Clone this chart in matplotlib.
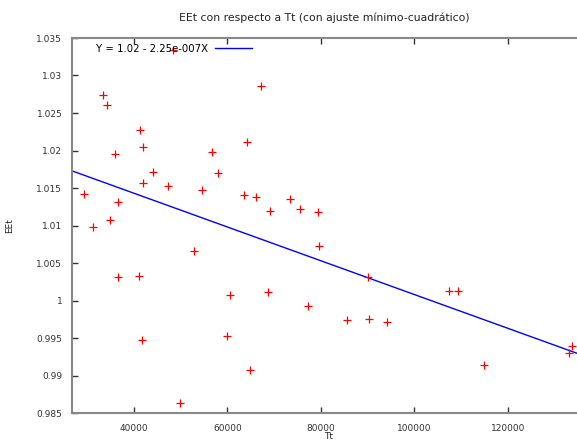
import numpy as np
import matplotlib
matplotlib.use("Agg")
import matplotlib.pyplot as plt

# datos (Tt, EEt)
tt = [29300, 31200, 33350, 34200, 34850, 35900, 36550, 36550, 41250, 41900,
      41900, 41050, 41700, 44050, 47300, 49850, 48350, 54550, 52900, 56700,
      57950, 59900, 60550, 64850, 64200, 63550, 66050, 67250, 69100, 68750,
      73400, 75550, 77200, 79350, 79650, 85650, 90150, 90300, 94100, 107450,
      109450, 115000, 133100, 133850]
eet = [1.0142, 1.0098, 1.0274, 1.0261, 1.0107, 1.0195, 1.0131, 1.0031, 1.0227, 1.0205,
       1.0157, 1.0033, 0.9947, 1.0171, 1.0153, 0.9863, 1.0334, 1.0147, 1.0066, 1.0198,
       1.0170, 0.9953, 1.0008, 0.9908, 1.0211, 1.0141, 1.0138, 1.0286, 1.0120, 1.0011,
       1.0135, 1.0122, 0.9993, 1.0118, 1.0073, 0.9974, 1.0031, 0.9976, 0.9972, 1.0013,
       1.0012, 0.9914, 0.9930, 0.9940]

# ajuste minimo-cuadratico
intercept = 1.0233
slope = -2.25e-7
fit_label = "Y = 1.02 - 2.25e-007X"

xlim = (26724, 134840)
ylim = (0.985, 1.035)

plt.rcParams["font.family"] = "DejaVu Sans"
plt.rcParams["font.size"] = 6.5

fig = plt.figure(figsize=(5.77, 4.44), dpi=100)
ax = fig.add_axes([72 / 577, 31 / 444, 505 / 577, 375 / 444])

ax.plot(tt, eet, "+", color="red", markersize=5.5, markeredgewidth=0.9, zorder=3)
xl = np.array(xlim)
ax.plot(xl, intercept + slope * xl, color="blue", linewidth=1, label=fit_label)

ax.set_xlim(xlim)
ax.set_ylim(ylim)
ax.set_xticks([40000, 60000, 80000, 100000, 120000])
ax.set_yticks([0.985, 0.99, 0.995, 1.0, 1.005, 1.01, 1.015, 1.02, 1.025, 1.03, 1.035])
ax.set_yticklabels(["0.985", "0.99", "0.995", "1", "1.005", "1.01", "1.015",
                    "1.02", "1.025", "1.03", "1.035"])
ax.tick_params(direction="in", length=4, width=1, colors="#333333",
               top=True, right=False)
ax.tick_params(axis="x", pad=8)
ax.tick_params(axis="y", pad=7)
for s in ["left", "bottom", "top"]:
    ax.spines[s].set_color("#888888")
    ax.spines[s].set_linewidth(1.5)
ax.spines["right"].set_visible(False)

ax.set_title("EEt con respecto a Tt (con ajuste mínimo-cuadrático)", pad=12, color="#222222")
ax.set_xlabel("Tt", color="#222222")
ax.xaxis.set_label_coords(0.508, -0.05)
ax.set_ylabel("EEt", color="#222222")
ax.yaxis.set_label_coords(-0.115, 0.5)

ax.legend(loc="upper left", bbox_to_anchor=(0.048, 0.985), frameon=False,
          markerfirst=False, handlelength=3.6, handletextpad=0.7,
          borderpad=0, borderaxespad=0, fontsize=7.3)

fig.savefig("out.png", dpi=100)
